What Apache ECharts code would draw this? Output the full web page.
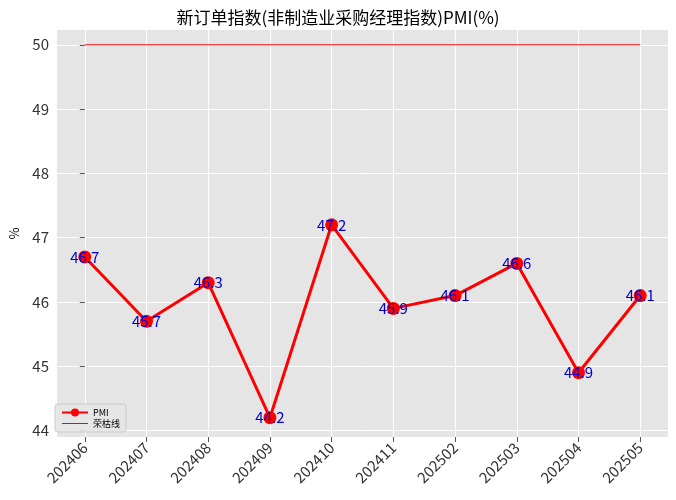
<!DOCTYPE html>
<html>
<head>
<meta charset="utf-8">
<script src="https://cdn.jsdelivr.net/npm/echarts@6/dist/echarts.min.js"></script>
<style>body{margin:0}#main{width:676px;height:500px}</style>
</head>
<body>
<div id="main"></div>
<script>
var months = ['202406', '202407', '202408', '202409', '202410', '202411', '202502', '202503', '202504', '202505'];
var pmi = [46.7, 45.7, 46.3, 44.2, 47.2, 45.9, 46.1, 46.6, 44.9, 46.1];
var boomLine = 50;
var yTicks = [44, 45, 46, 47, 48, 49, 50];
var xTicks = [0, 1, 2, 3, 4, 5, 6, 7, 8, 9];

var font = '"Noto Sans CJK SC", "DejaVu Sans", sans-serif';
var chart = echarts.init(document.getElementById('main'));
chart.setOption({
	animation: false,
	backgroundColor: '#fff',
	title: {
		text: '新订单指数(非制造业采购经理指数)PMI(%)',
		left: 'center', top: 4,
		textStyle: { fontFamily: font, fontSize: 17, fontWeight: 'normal', color: '#000' }
	},
	grid: { left: 50, right: 8, top: 30, bottom: 63, backgroundColor: '#e5e5e5', show: true, borderWidth: 0 },
	legend: {
		left: 55, bottom: 68, orient: 'vertical', itemGap: 2,
		backgroundColor: 'rgba(229,229,229,0.9)', borderColor: '#ccc', borderWidth: 1, borderRadius: 3,
		padding: [4, 6],
		textStyle: { fontFamily: font, fontSize: 9, color: '#000' },
		itemWidth: 26, itemHeight: 10,
		data: [{ name: 'PMI' }, { name: '荣枯线', icon: 'path://M0,5L26,5L26,6L0,6Z' }]
	},
	xAxis: {
		type: 'value', min: -0.45, max: 9.45,
		axisLine: { show: false },
		axisTick: { show: true, customValues: xTicks, lineStyle: { color: '#555' } },
		splitLine: { lineStyle: { color: '#fff', width: 1 } },
		axisLabel: {
			rotate: 45, fontSize: 15, color: '#333', fontFamily: font, margin: 8,
			customValues: xTicks,
			formatter: function (v) { return months[Math.round(v)]; }
		}
	},
	yAxis: {
		type: 'value', min: 43.9, max: 50.23,
		name: '%', nameLocation: 'middle', nameGap: 36, nameRotate: 90,
		nameTextStyle: { fontFamily: font, fontSize: 13, color: '#000' },
		axisLine: { show: false },
		axisTick: { show: true, customValues: yTicks, lineStyle: { color: '#555' } },
		splitLine: { lineStyle: { color: '#fff', width: 1 } },
		axisLabel: {
			fontSize: 15, color: '#333', fontFamily: font,
			customValues: yTicks
		}
	},
	series: [{
		name: 'PMI', type: 'line',
		data: pmi.map(function (v, i) { return [i, v]; }),
		symbol: 'circle', symbolSize: 13,
		lineStyle: { color: '#f00', width: 3 },
		itemStyle: { color: '#f00' },
		label: {
			show: true, position: 'inside', color: '#00c', fontSize: 15, fontFamily: font,
			formatter: function (p) { return p.value[1].toFixed(1); }
		},
		z: 3
	}, {
		name: '荣枯线', type: 'line',
		data: [[0, boomLine], [9, boomLine]],
		symbol: 'none',
		lineStyle: { color: '#f00', width: 1 },
		itemStyle: { color: '#f00' },
		z: 2
	}]
});
</script>
</body>
</html>
